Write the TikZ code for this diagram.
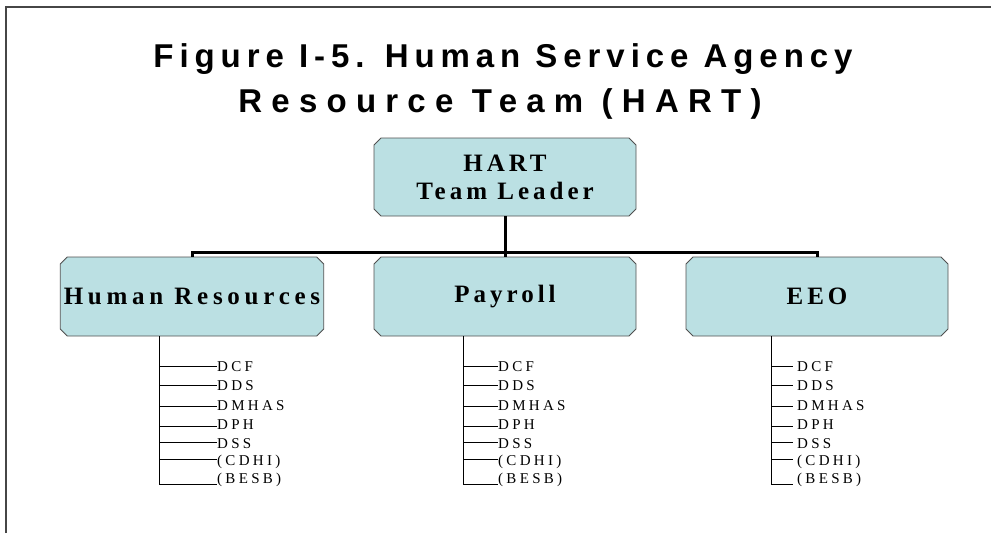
\documentclass[tikz,border=0pt]{standalone}
\usepackage{fontspec}
\usetikzlibrary{shapes.misc}
\newfontfamily\titlefontA[LetterSpace=18]{Liberation Sans}
\newfontfamily\titlefontB[LetterSpace=28]{Liberation Sans}
\newfontfamily\boxfont[LetterSpace=16]{Liberation Serif}
\newfontfamily\boxfontwide[LetterSpace=19]{Liberation Serif}
\newfontfamily\listfont[LetterSpace=22]{Liberation Serif}
\definecolor{boxfill}{RGB}{187,224,227}
\definecolor{boxline}{RGB}{80,80,80}
\definecolor{framecol}{RGB}{70,70,70}
\tikzset{
  orgbox/.style={chamfered rectangle, chamfered rectangle xsep=3.5pt,
    chamfered rectangle ysep=3.5pt, draw=boxline, fill=boxfill, line width=0.9pt,
    inner sep=0pt, align=center, minimum width=262pt, minimum height=79pt},
  boxtext/.style={font=\boxfont\bfseries\fontsize{25}{28}\selectfont},
  conn/.style={line width=3pt, line join=miter},
  listline/.style={line width=0.9pt},
  item/.style={inner ysep=0pt, anchor=base west, font=\listfont\fontsize{15}{18}\selectfont},
  titletext/.style={inner sep=0pt, anchor=base}
}
\begin{document}
\begin{tikzpicture}[x=1pt,y=-1pt]
\useasboundingbox (0,0) rectangle (991,533);
% frame
\draw[framecol, line width=1.6pt] (6,533) -- (6,7) -- (991,7);
% title
\node[titletext, font=\titlefontA\bfseries\fontsize{33}{36}\selectfont] (title1) at (503,67) {Figure I-5. Human Service Agency};
\node[titletext, font=\titlefontB\bfseries\fontsize{33}{36}\selectfont] (title2) at (500,112) {Resource Team (HART)};
% boxes
\node[orgbox, boxtext, minimum height=78pt] (hart) at (505,177) {HART\\Team Leader};
\node[orgbox, font=\boxfontwide\bfseries\fontsize{25}{28}\selectfont] (hr) at (192,296.5) {Human Resources};
\node[orgbox, boxtext] (pay) at (505,296.5) {Payroll};
\node[orgbox, boxtext] (eeo) at (817,296.5) {EEO};
% connectors
\coordinate (bar) at (505,252);
\draw[conn] (hart.south) -- (bar);
\draw[conn] (hr.north) |- (bar) -| (eeo.north);
\draw[conn] (bar) -- (pay.north);
% lists
\foreach \col/\sx/\tx/\gap in {hr/159/217/0, pay/463/498/0, eeo/771/797/4} {
  \coordinate (\col sp) at (\sx,484);
  \draw[listline] (\col.south -| \col sp) -- (\col sp);
  \foreach \n/\t/\b/\l in {1/DCF/371/366, 2/DDS/390/385, 3/DMHAS/410/406, 4/DPH/429/426, 5/DSS/448/442, 6/{(CDHI)}/465/459, 7/{(BESB)}/483/484} {
    \node[item, inner xsep=\gap pt] (\col\n) at (\tx-\gap,\b) {\t};
    \draw[listline] (\col sp |- 0,\l) -- (\col\n.west |- 0,\l);
  }
}
\end{tikzpicture}
\end{document}
